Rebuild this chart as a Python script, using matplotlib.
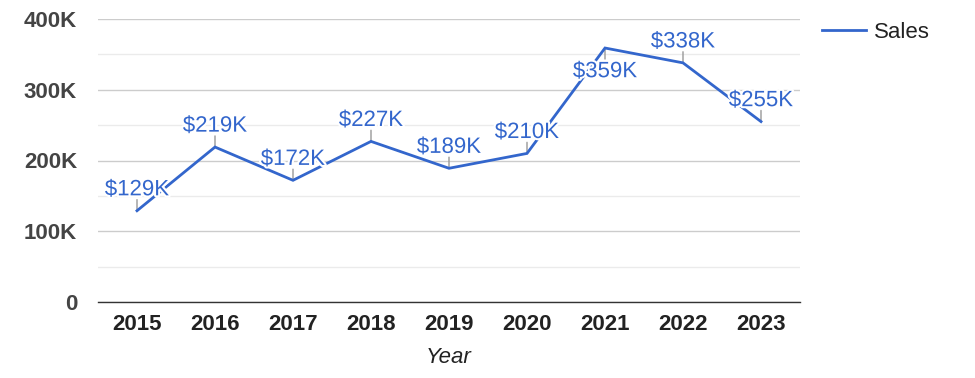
import numpy as np
import matplotlib.pyplot as plt
import matplotlib.patheffects as pe
from matplotlib.ticker import MultipleLocator, FuncFormatter

plt.rcParams["font.family"] = ["Liberation Sans", "DejaVu Sans"]

years = ["2015", "2016", "2017", "2018", "2019", "2020", "2021", "2022", "2023"]
sales = [129, 219, 172, 227, 189, 210, 359, 338, 255]  # thousands
labels = ["$129K", "$219K", "$172K", "$227K", "$189K", "$210K", "$359K", "$338K", "$255K"]
# annotation side: 1 above, -1 below
side = [1, 1, 1, 1, 1, 1, -1, 1, 1]

line_color = "#3366cc"
fs = 16

fig = plt.figure(figsize=(9.75, 3.78), dpi=100)
ax = fig.add_axes([98 / 975, 1 - 302 / 378, 702 / 975, 283 / 378])

x = np.arange(len(years))
ax.plot(x, sales, color=line_color, lw=2, label="Sales", zorder=3, solid_joinstyle="miter")

halo = [pe.withStroke(linewidth=3, foreground="white")]
for i, (v, lab, s) in enumerate(zip(sales, labels, side)):
    # short grey stem
    ax.annotate("", xy=(i, v), xytext=(0, 8 * s), textcoords="offset points",
                arrowprops=dict(arrowstyle="-", color="#999999", lw=1,
                                shrinkA=0, shrinkB=0), zorder=2)
    off = 7.5 if s > 0 else -9.5
    ax.annotate(lab, xy=(i, v), xytext=(0, off), textcoords="offset points",
                ha="center", va="bottom" if s > 0 else "top",
                fontsize=fs, color=line_color, path_effects=halo, zorder=4)

ax.set_xlim(-0.5, len(years) - 0.5)
ax.set_ylim(0, 400)
ax.set_xticks(x)
ax.set_xticklabels(years)
ax.yaxis.set_major_locator(MultipleLocator(100))
ax.yaxis.set_minor_locator(MultipleLocator(50))
ax.yaxis.set_major_formatter(FuncFormatter(lambda v, p: "0" if v == 0 else f"{int(v)}K"))

ax.grid(axis="y", which="major", color="#cccccc", lw=1)
ax.grid(axis="y", which="minor", color="#ebebeb", lw=1)
ax.set_axisbelow(True)
for sp in ["top", "right", "left"]:
    ax.spines[sp].set_visible(False)
ax.spines["bottom"].set_color("#333333")
ax.spines["bottom"].set_linewidth(1)

ax.tick_params(axis="both", which="both", length=0)
ax.tick_params(axis="y", pad=15, labelsize=fs, labelcolor="#444444")
ax.tick_params(axis="x", pad=8.5, labelsize=fs, labelcolor="#222222")
for t in ax.get_xticklabels() + ax.get_yticklabels():
    t.set_fontweight("bold")

ax.set_xlabel("Year", fontsize=fs, style="italic", color="#222222", labelpad=9)

ax.legend(loc="upper left", bbox_to_anchor=(822 / 975, 1 - 22 / 378),
          bbox_transform=fig.transFigure, frameon=False, fontsize=fs,
          handlelength=2.0, handletextpad=0.35, borderpad=0, borderaxespad=0,
          labelcolor="#222222")

fig.savefig("out.png", dpi=100)
